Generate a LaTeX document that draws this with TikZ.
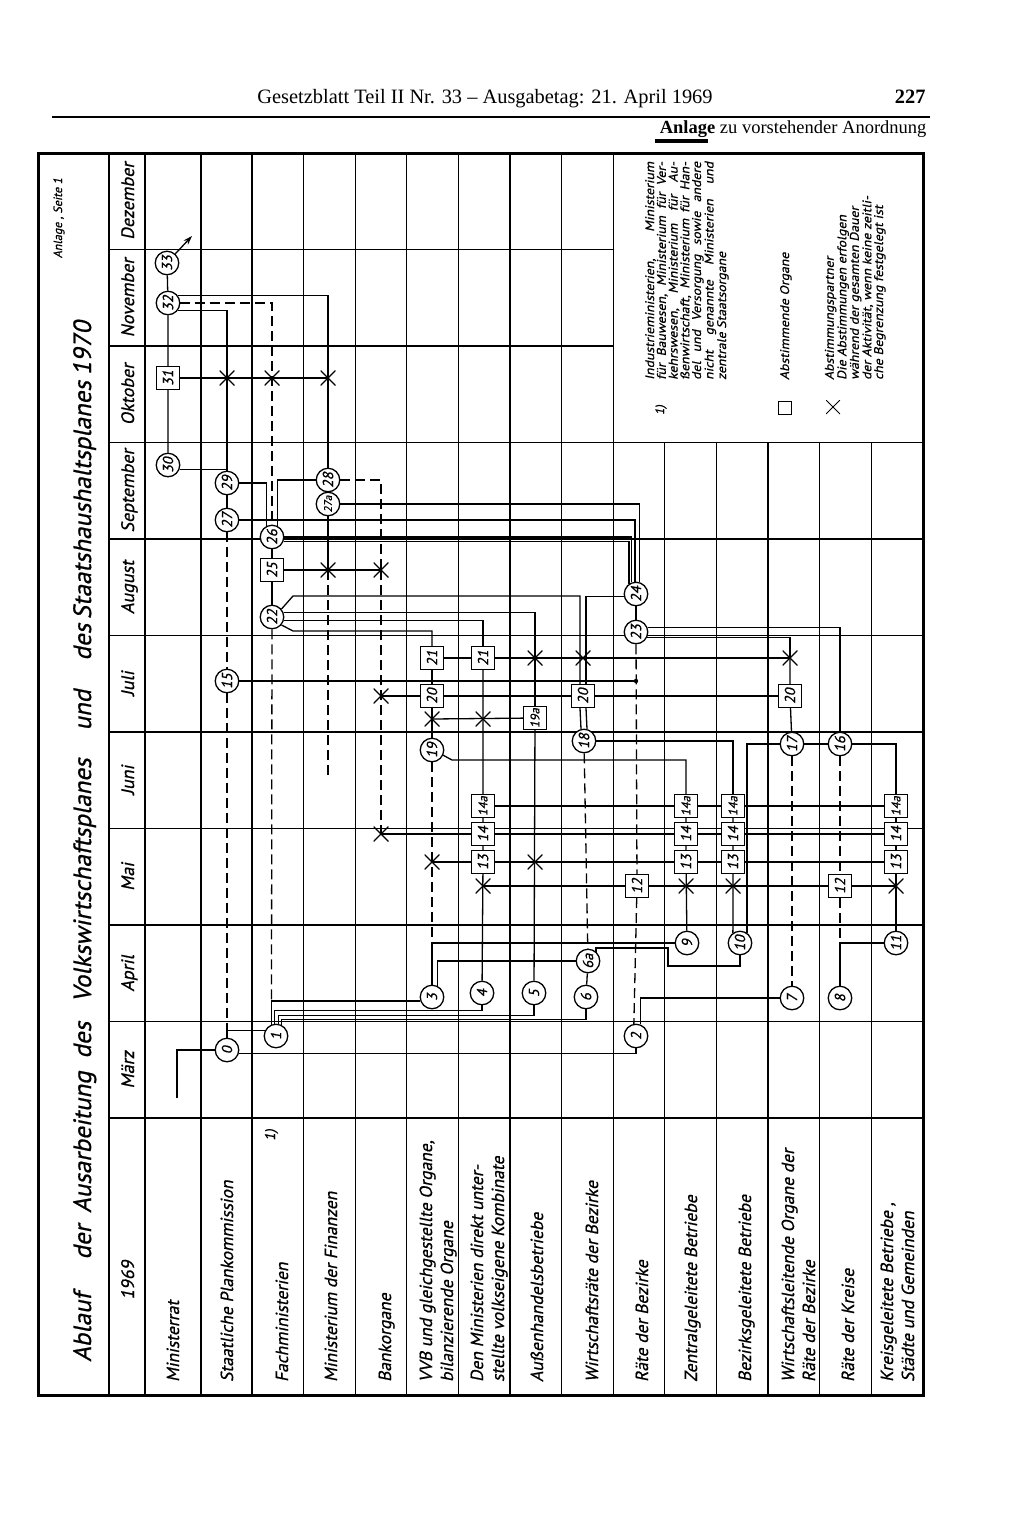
\documentclass[tikz,border=0pt]{standalone}
\usepackage{fontspec}
\setmainfont{Liberation Serif}
\newfontfamily\techfont{PT Sans}[FakeSlant=0.2,FakeBold=0.8]
\newfontfamily\techwide{PT Sans}[FakeSlant=0.2,FakeStretch=1.1,FakeBold=0.6]
\newfontfamily\hdrfont{Liberation Serif}
\usetikzlibrary{calc,arrows.meta}
\pgfdeclarelayer{bg}
\pgfdeclarelayer{paper}
\pgfsetlayers{paper,bg,main}
\newcommand\rtx[1]{\rotatebox{90}{#1}}
\begin{document}
\begin{tikzpicture}[x=1pt,y=-1pt,
  cn/.style={circle,draw,line width=1.3pt,minimum size=23.5pt,inner sep=0pt,fill=white,font=\techfont\fontsize{14.5}{12}\selectfont},
  cns/.style={cn,font=\techfont\fontsize{11}{10}\selectfont},
  bx/.style={rectangle,draw,line width=1.3pt,minimum size=23pt,inner sep=0pt,fill=white,font=\techfont\fontsize{14.5}{12}\selectfont},
  bxs/.style={bx,font=\techfont\fontsize{12.5}{11}\selectfont},
  xmk/.style={minimum size=15pt,inner sep=0pt,path picture={\draw[line width=1.3pt] (path picture bounding box.south west)--(path picture bounding box.north east) (path picture bounding box.north west)--(path picture bounding box.south east);}},
  lgx/.style={minimum size=14pt,inner sep=0pt,path picture={\draw[line width=0.9pt] (path picture bounding box.south west)--(path picture bounding box.north east) (path picture bounding box.north west)--(path picture bounding box.south east);}},
  con/.style={line width=1.3pt},
  dsh/.style={line width=1.3pt,dash pattern=on 10pt off 5pt},
  gridl/.style={line width=1.15pt},
  rowlab/.style={rotate=90,anchor=base west,inner sep=0pt,align=left,font=\techfont\fontsize{17.5}{21}\selectfont},
  monlab/.style={rotate=90,anchor=base,inner sep=0pt,font=\techfont\fontsize{18}{18}\selectfont},
  ttl/.style={rotate=90,anchor=base,inner sep=0pt,font=\techfont\fontsize{25}{25}\selectfont},
  lg/.style={rotate=90,anchor=base west,inner sep=0pt,align=left,font=\techwide\fontsize{12.5}{10.6}\selectfont},
]
\begin{pgfonlayer}{paper}
\fill[white] (0,0) rectangle (1024,1532);
\end{pgfonlayer}
\useasboundingbox (0,0) rectangle (1024,1532);

% ---------- page header ----------
\node[font=\hdrfont\fontsize{20.4}{20}\selectfont, anchor=base] (hdr) at (485,103) {Gesetzblatt Teil II Nr. 33 – Ausgabetag: 21. April 1969};
\node[font=\hdrfont\bfseries\fontsize{20.4}{20}\selectfont, anchor=base east] (pg) at (929,103) {227};
\draw[line width=2pt] (52,117) -- (930,117);
\node[font=\hdrfont\fontsize{18.5}{18}\selectfont, anchor=base east] (anl) at (930,133) {\textbf{Anlage} zu vorstehender Anordnung};
\fill (655,139) rectangle (708,142.5);

% ---------- grid ----------
\begin{pgfonlayer}{bg}
\foreach \x in {201,252,303.6,355.2,406.8,458.4,510,561.6,613.2} \draw[gridl] (\x,153) -- (\x,1395);
\foreach \x in {664.8,716.4,768,819.6,871.2} \draw[gridl] (\x,442.5) -- (\x,1395);
\foreach \y in {249.5,346} \draw[gridl] (109,\y) -- (613.2,\y);
\foreach \y in {442.5,539,635.5,732,828.5,925,1021.5} \draw[gridl] (109,\y) -- (923,\y);
\draw[line width=1.6pt] (145,153) -- (145,1395);
\draw[line width=2.6pt] (109,153) -- (109,1395);
\draw[line width=2.6pt] (109,1118) -- (923,1118);
\draw[line width=3pt] (38,153) rectangle (923,1395);
\end{pgfonlayer}

% ---------- title ----------
\node[rotate=90,anchor=base,inner sep=0pt,font=\techfont\fontsize{12}{12}\selectfont] (anlS) at (62,218) {Anlage , Seite 1};
\foreach \w/\y [count=\i] in {Ablauf/1327, der/1242, Ausarbeitung/1142, des/1040, Volkswirtschaftsplanes/880, und/710, des/642, Staatshaushaltsplanes/500, 1970/348}
  \node[ttl] (tw\i) at (91,\y) {\w};

% ---------- months ----------
\foreach \m/\y [count=\i] in {Dezember/201, November/297.75, Oktober/394.25, September/490.75, August/587.25, Juli/683.75, Juni/780.25, Mai/876.75, April/973.25, März/1069.75}
  \node[monlab] (mo\i) at (134,\y) {\m};
\node[monlab] (yr) at (134,1280) {1969};

% ---------- row labels ----------
\node[rowlab] (r1) at (179,1382) {Ministerrat};
\node[rowlab] (r2) at (233,1382) {Staatliche Plankommission};
\node[rowlab] (r3) at (288,1382) {Fachministerien};
\node[rotate=90,anchor=base,inner sep=0pt,font=\techfont\fontsize{14}{14}\selectfont] (r3n) at (275,1135) {1)};
\node[rowlab] (r4) at (337,1382) {Ministerium der Finanzen};
\node[rowlab] (r5) at (391,1382) {Bankorgane};
\node[rowlab] (r6) at (453,1382) {VVB und gleichgestellte Organe,\\bilanzierende Organe};
\node[rowlab] (r7) at (504,1382) {Den Ministerien direkt unter-\\stellte volkseigene Kombinate};
\node[rowlab] (r8) at (543,1382) {Außenhandelsbetriebe};
\node[rowlab] (r9) at (598,1382) {Wirtschaftsräte der Bezirke};
\node[rowlab] (r10) at (648,1382) {Räte der Bezirke};
\node[rowlab] (r11) at (697,1382) {Zentralgeleitete Betriebe};
\node[rowlab] (r12) at (751,1382) {Bezirksgeleitete Betriebe};
\node[rowlab] (r13) at (815,1382) {Wirtschaftsleitende Organe der\\Räte der Bezirke};
\node[rowlab] (r14) at (854,1382) {Räte der Kreise};
\node[rowlab] (r15) at (914,1382) {Kreisgeleitete Betriebe ,\\Städte und Gemeinden};

% ---------- legend ----------
\node[rotate=90,anchor=base,inner sep=0pt,font=\techfont\fontsize{12}{11}\selectfont] (fn1) at (664,410) {1)};
\node[lg] (lgA) at (726,380) {\makebox[218pt][s]{Industrieministerien, Ministerium}\\
 \makebox[218pt][s]{für Bauwesen, Ministerium für Ver-}\\
 \makebox[218pt][s]{kehrswesen, Ministerium für Au-}\\
 \makebox[218pt][s]{ßenwirtschaft, Ministerium für Han-}\\
 \makebox[218pt][s]{del und Versorgung sowie andere}\\
 \makebox[218pt][s]{nicht genannte Ministerien und}\\
 zentrale Staatsorgane};
\node[draw,line width=1pt,minimum size=13pt,inner sep=0pt] (lgsq) at (785,408) {};
\node[lg] (lgB) at (789,380) {Abstimmende Organe};
\node[lgx] (lgxx) at (833,407) {};
\node[lg] (lgC) at (883,380) {Abstimmungspartner\\
 Die Abstimmungen erfolgen\\
 während der gesamten Dauer\\
 der Aktivität, wenn keine zeitli-\\
 che Begrenzung festgelegt ist};

% ---------- nodes ----------
\node[cn] (n33) at (167,263) {\rtx{33}};
\node[cn] (n32) at (168,303) {\rtx{32}};
\node[bx] (n31) at (168,378) {\rtx{31}};
\node[cn] (n30) at (168,465) {\rtx{30}};
\node[cn] (n29) at (227,483) {\rtx{29}};
\node[cn] (n27) at (227,520) {\rtx{27}};
\node[cn] (n15) at (227,681) {\rtx{15}};
\node[cn] (n0) at (227,1050) {\rtx{0}};
\node[cn] (n26) at (272,537) {\rtx{26}};
\node[bx] (n25) at (272,570) {\rtx{25}};
\node[cn] (n22) at (272,617) {\rtx{22}};
\node[cn] (n1) at (276,1036) {\rtx{1}};
\node[cn] (n28) at (328,480) {\rtx{28}};
\node[cns] (n27a) at (328,504) {\rtx{27a}};
\node[bx] (n21a) at (432,658) {\rtx{21}};
\node[bx] (n20a) at (432,696) {\rtx{20}};
\node[cn] (n19) at (432,750) {\rtx{19}};
\node[cn] (n3) at (432,997) {\rtx{3}};
\node[bx] (n21b) at (483,658) {\rtx{21}};
\node[bxs] (n14ab) at (483,806) {\rtx{14a}};
\node[bx] (n14b) at (483,834) {\rtx{14}};
\node[bx] (n13b) at (483,862) {\rtx{13}};
\node[cn] (n4) at (482,993) {\rtx{4}};
\node[bxs] (n19a) at (535,718) {\rtx{19a}};
\node[cn] (n5) at (534,993) {\rtx{5}};
\node[bx] (n20c) at (583,696) {\rtx{20}};
\node[cn] (n18) at (584,741) {\rtx{18}};
\node[cn] (n6a) at (588,961) {\rtx{6a}};
\node[cn] (n6) at (586,997) {\rtx{6}};
\node[cn] (n24) at (636,594) {\rtx{24}};
\node[cn] (n23) at (636,632) {\rtx{23}};
\node[bx] (n12a) at (637,886) {\rtx{12}};
\node[cn] (n2) at (636,1036) {\rtx{2}};
\node[bxs] (n14ac) at (686,806) {\rtx{14a}};
\node[bx] (n14c) at (686,834) {\rtx{14}};
\node[bx] (n13c) at (686,862) {\rtx{13}};
\node[cn] (n9) at (687,943) {\rtx{9}};
\node[bxs] (n14ad) at (733,806) {\rtx{14a}};
\node[bx] (n14d) at (733,834) {\rtx{14}};
\node[bx] (n13d) at (733,862) {\rtx{13}};
\node[cn] (n10) at (740,943) {\rtx{10}};
\node[bx] (n20e) at (790,696) {\rtx{20}};
\node[cn] (n17) at (792,744) {\rtx{17}};
\node[cn] (n7) at (792,998) {\rtx{7}};
\node[cn] (n16) at (840,744) {\rtx{16}};
\node[bx] (n12b) at (840,886) {\rtx{12}};
\node[cn] (n8) at (840,998) {\rtx{8}};
\node[bxs] (n14ae) at (896,806) {\rtx{14a}};
\node[bx] (n14e) at (896,834) {\rtx{14}};
\node[bx] (n13e) at (896,862) {\rtx{13}};
\node[cn] (n11) at (896,943) {\rtx{11}};

% crosses
\node[xmk] (xa) at (227,378) {};
\node[xmk] (xb) at (272,378) {};
\node[xmk] (xc) at (328,378) {};
\node[xmk] (xf) at (328,570) {};
\node[xmk] (xg) at (381,570) {};
\node[xmk] (xh) at (381,696) {};
\node[xmk] (xi) at (381,834) {};
\node[xmk] (xj) at (432,719) {};
\node[xmk] (xk) at (483,719) {};
\node[xmk] (xl) at (535,658) {};
\node[xmk] (xm) at (583,658) {};
\node[xmk] (xn) at (790,658) {};
\node[xmk] (xo) at (432,862) {};
\node[xmk] (xp) at (535,862) {};
\node[xmk] (xq) at (483,886) {};
\node[xmk] (xr) at (686,886) {};
\node[xmk] (xs) at (733,886) {};
\node[xmk] (xt) at (896,886) {};

% helper coordinates
\coordinate (mstart) at (177,1098);
\coordinate (arr) at (192,236);
\coordinate (finend) at (328,779);
\coordinate (c1) at (271.5,1001);
\coordinate (c3) at (432,943);
\coordinate (c8) at (840,943);
\coordinate (j15) at (636,681);
\coordinate (d1) at (293,596);
\coordinate (d2) at (293,631);
\coordinate (d3) at (452,760);
\coordinate (e1) at (668,948);
\coordinate (e2) at (668,966);

% ---------- connectors ----------
\begin{pgfonlayer}{bg}
\draw[con] (mstart) |- (n0.west);
\draw[con] (n30) -- (n31) -- (n32) -- (n33);
\draw[con,-{Stealth[length=9pt,width=6pt]}] (n33.48) -- (arr);
\draw[con] (n30.-20) -| (n29.north);
\draw[con] (n32.-36) -| (n29.north);
\draw[con] (n31) -- (xc.center);
\draw[dsh] (n32.east) -| (n26.north);
\draw[con] (n32.36) -| (n28.north);
\draw[con] (n29) -- (n27);
\draw[dsh] (n27) -- (n15);
\draw[dsh] (n15) -- (n0);
\draw[con] (n0.north) |- (n1.155);
\draw[con] (n15.east) -- (j15);
\draw[con] (n29.east) -| (n26.115);
\draw[con] (n28.west) -| (n26.65);
\draw[con] (n28) -- (n27a);
\draw[dsh] (n28.east) -| (xg.center);
\draw[dsh] (xg.center) -- (xi.center);
\draw[con] (n27a) -- (xf.center);
\draw[dsh] (xf.center) -- (finend);
\draw[con] (n25) -- (xg.center);
\draw[con] (n26) -- (n25) -- (n22);
\draw[dsh] (n22) -- (c1);
\draw[con] (n1.112) |- (n3.199);
\draw[con] (n1.96) |- ($(n4.south)+(0,5)$) -- (n4.south);
\draw[con] (n1.80) |- ($(n5.south)+(0,10)$) -- (n5.south);
\draw[con] (n1.64) |- ($(n6.south)+(0,10)$) -- (n6.south);
\draw[con] (n0.-15) -| (n2.south);
\draw[con] (n27a.east) -| (n24.75);
\draw[con] (n27.east) -| (n24.95);
\draw[con] (n26.east) -| (n24.110);
\draw[con] (n26.-20) -| (n24.125);
\draw[con] (n22.40) -- (d1) -| ($(n20c.north)+(-3,0)$);
\draw[con] (n24.190) -| ($(n20c.north)+(3,0)$);
\draw[con] ($(n20c.south)+(-3,0)$) -- ($(n18.north)+(-3,0.4)$);
\draw[con] ($(n20c.south)+(3,0)$) -- ($(n18.north)+(3,0.4)$);
\draw[con] (n22.20) -| (n19a.north);
\draw[con] (n22.-15) -| (n21b.north);
\draw[con] (n22.-40) -- (d2) -| (n21a.north);
\draw[con] (n21a) -- (n21b);
\draw[con] (n21a) -- (n20a) -- (xj.center) -- (n19);
\draw[con] (xh.center) -- (n20a) -- (n20c) -- (n20e);
\draw[con] (n19a) -- (xj.center);
\draw[con] (n21b) -- (n14ab) -- (n14b) -- (n13b) -- (n4);
\draw[con] (n19.-25) -- (d3) -| (n14ac.north);
\draw[dsh] (n19) -- (c3);
\draw[con] (n3.north) |- (n9.west);
\draw[con] (n3.65) |- (n6a.west);
\draw[con] (xo.center) -- (n13b) -- (n13c) -- (n13d) -- (n13e);
\draw[con] (xi.center) -- (n14b) -- (n14c) -- (n14d) -- (n14e);
\draw[con] (n14ab) -- (n14ac) -- (n14ad) -- (n14ae);
\draw[con] (n19a) -- (n5);
\draw[con] (n21b) -- (xn.center);
\draw[con] (n18.east) -| (n14ad.north);
\draw[dsh] (n18) -- (n6a);
\draw[con] (n6a) -- (n6);
\draw[con] (n6a.50) |- (e1) -- (e2) -| (n10.south);
\draw[con] (n24) -- (n23);
\draw[dsh] (n23) -- (n12a);
\draw[dsh] (n12a) -- (n2.100);
\draw[con] (n2.70) |- (n7.west);
\draw[con] (xq.center) -- (n12a) -- (n12b) -- (xt.center);
\draw[con] (n23.20) -| (n16.north);
\draw[con] (n23.-25) -| (xn.center);
\draw[con] (xn.center) -- (n20e) -- (n17);
\draw[dsh] (n17) -- (n7);
\draw[con] (n17) -- (n16);
\draw[con] (n17.west) -| (n10.55);
\draw[con] (n16.east) -| (n14ae.north);
\draw[dsh] (n16) -- (n12b);
\draw[dsh] (n12b) -- (c8);
\draw[con] (n8.north) |- (n11.west);
\draw[con] (n11) -- (n13e) -- (n14e) -- (n14ae);
\draw[con] (n9) -- (n13c) -- (n14c) -- (n14ac);
\draw[con] (n10.125) -- (n13d) -- (n14d) -- (n14ad);
\end{pgfonlayer}
\fill (j15) circle (2.2);
\end{tikzpicture}
\end{document}
